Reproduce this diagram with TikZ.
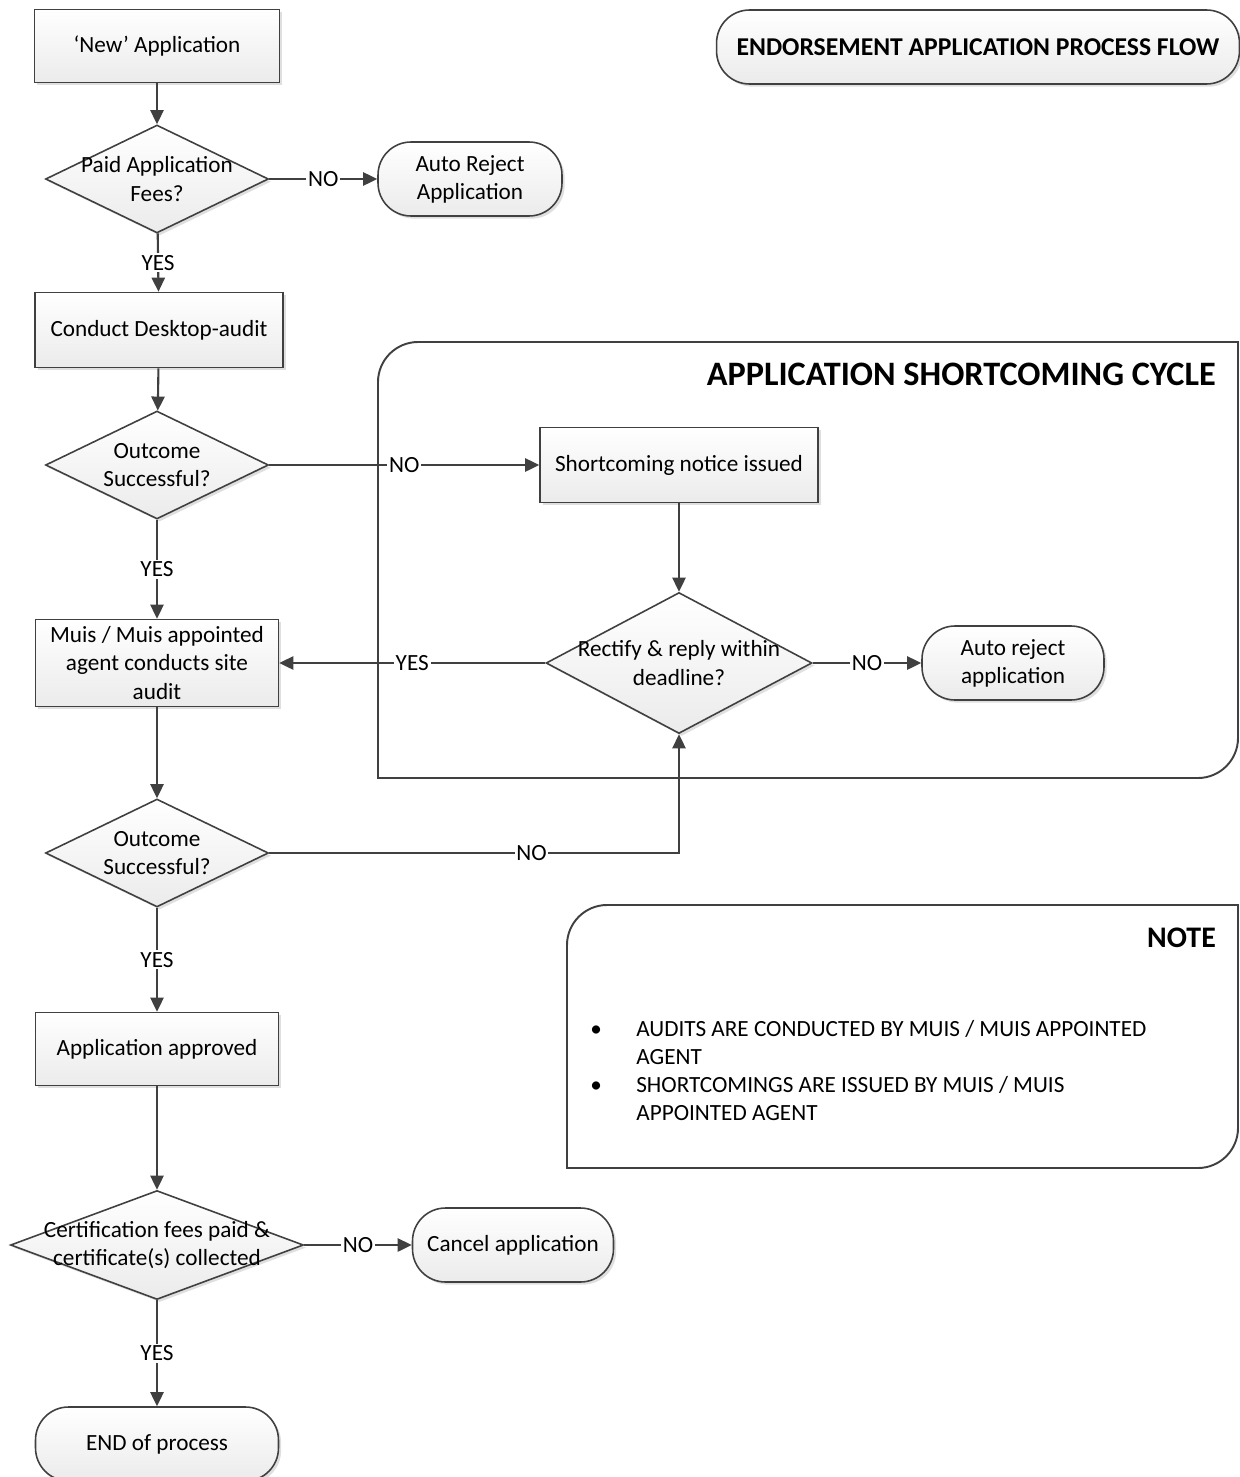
\documentclass[tikz,border=0pt]{standalone}
\usepackage{fontspec}
\setmainfont{Carlito}
\usetikzlibrary{shapes.geometric,arrows.meta,shadows}
\definecolor{linegray}{HTML}{404040}
\definecolor{fillgray}{HTML}{EBEBEB}

\begin{document}
\begin{tikzpicture}[x=0.02cm, y=-0.02cm,
        every node/.style={font=\fontsize{13.2}{16}\selectfont},
        shaded/.style={draw=linegray, line width=0.9pt, top color=white, bottom color=fillgray,
            drop shadow={shadow xshift=1.5pt, shadow yshift=-1.5pt, opacity=0.25}},
        proc/.style={shaded, rectangle, minimum width=4.9cm, minimum height=1.46cm, align=center, inner sep=2pt},
        decision/.style={shaded, diamond, minimum width=4.46cm, minimum height=2.16cm, inner sep=0pt},
        terminal/.style={shaded, rectangle, rounded corners=0.66cm, minimum height=1.48cm, align=center, inner sep=2pt},
        frame/.style={draw=linegray, line width=1.1pt},
        flow/.style={draw=linegray, line width=1.2pt, -{Triangle[length=8pt,width=7.5pt]}},
        yn/.style={fill=white, inner sep=1pt},
        head/.style={font=\fontsize{19.5}{22}\selectfont\bfseries, anchor=east}
    ]
        \clip (0,0) rectangle (1240,1477);

        \draw[frame] (378,778) -- (378,382) .. controls (378,360) and (396,342) .. (418,342) -- (1238,342) -- (1238,738) .. controls (1238,760) and (1220,778) .. (1198,778) -- cycle;
        \node[head] (cycletitle) at (1222,374) {APPLICATION SHORTCOMING CYCLE};

        \draw[frame] (567,1168) -- (567,945) .. controls (567,923) and (585,905) .. (607,905) -- (1238,905) -- (1238,1128) .. controls (1238,1150) and (1220,1168) .. (1198,1168) -- cycle;
        \node[head, font=\fontsize{17}{20}\selectfont\bfseries] (notetitle) at (1222,938) {NOTE};
        \node[anchor=north west, inner sep=0pt] (notelist) at (590,1016) {%
            \begin{tabular}{@{}p{0.92cm}@{}l@{}}
                • & AUDITS ARE CONDUCTED BY MUIS / MUIS APPOINTED\\
                  & AGENT\\
                • & SHORTCOMINGS ARE ISSUED BY MUIS / MUIS\\
                  & APPOINTED AGENT
            \end{tabular}};

        \node[terminal, minimum width=10.46cm, font=\fontsize{14.6}{17}\selectfont\bfseries] (title) at (978,47) {ENDORSEMENT APPLICATION PROCESS FLOW};

        \node[proc] (newapp) at (157,46) {‘New’ Application};
        \node[decision, label={[align=center]center:Paid Application\\Fees?}] (paid) at (157,179) {};
        \node[terminal, minimum width=3.68cm] (autorej) at (470,179) {Auto Reject\\Application};
        \node[proc, minimum width=4.96cm, minimum height=1.5cm] (desk) at (159,330) {Conduct Desktop-audit};
        \node[decision, label={[align=center]center:Outcome\\Successful?}] (out1) at (157,465) {};
        \node[proc, minimum width=5.56cm, minimum height=1.5cm] (notice) at (679,465) {Shortcoming notice issued};
        \node[decision, minimum width=5.32cm, minimum height=2.82cm, label={[align=center]center:Rectify \& reply within\\deadline?}] (rectify) at (679,663) {};
        \node[terminal, minimum width=3.64cm] (autorej2) at (1013,663) {Auto reject\\application};
        \node[proc, minimum width=4.86cm, minimum height=1.74cm] (site) at (157,663) {Muis / Muis appointed\\agent conducts site\\audit};
        \node[decision, label={[align=center]center:Outcome\\Successful?}] (out2) at (157,853) {};
        \node[proc, minimum width=4.86cm] (approved) at (157,1049) {Application approved};
        \node[decision, minimum width=5.86cm, minimum height=2.18cm, label={[align=center]center:Certification fees paid \&\\certificate(s) collected}] (cert) at (157,1245) {};
        \node[terminal, minimum width=4.02cm] (cancel) at (513,1245) {Cancel application};
        \node[terminal, minimum width=4.86cm] (endp) at (157,1444) {END of process};

        \draw[flow] (newapp) -- (paid);
        \draw[flow] (paid) -- node[yn] {NO} (autorej);
        \draw[flow] (paid) -- node[yn] {YES} (desk);
        \draw[flow] (desk) -- (out1);
        \draw[flow] (out1) -- node[yn] {NO} (notice);
        \draw[flow] (out1) -- node[yn] {YES} (site);
        \draw[flow] (notice) -- (rectify);
        \draw[flow] (rectify) -- node[yn] {YES} (site);
        \draw[flow] (rectify) -- node[yn] {NO} (autorej2);
        \draw[flow] (site) -- (out2);
        \draw[flow] (out2) -| node[yn, pos=0.32] {NO} (rectify);
        \draw[flow] (out2) -- node[yn] {YES} (approved);
        \draw[flow] (approved) -- (cert);
        \draw[flow] (cert) -- node[yn] {NO} (cancel);
        \draw[flow] (cert) -- node[yn] {YES} (endp);
    \end{tikzpicture}
\end{document}
